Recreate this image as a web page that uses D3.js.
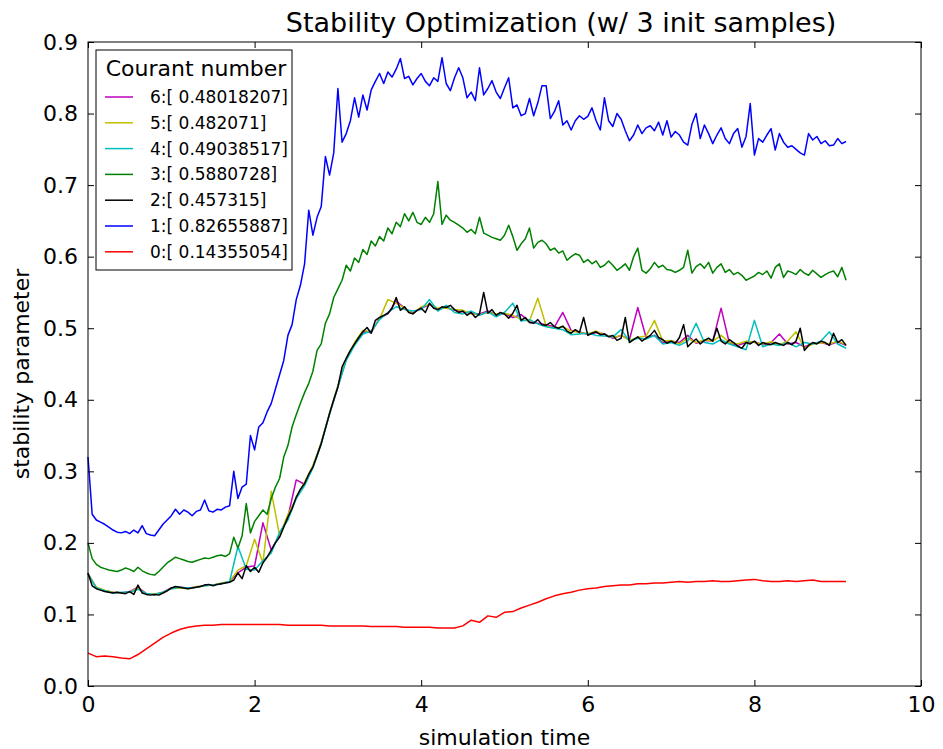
<!DOCTYPE html>
<html>
<head>
<meta charset="utf-8">
<script src="https://cdn.jsdelivr.net/npm/d3@7"></script>
<style>
  body { margin: 0; background: #fff; }
  text { font-family: "DejaVu Sans", sans-serif; fill: #000; }
</style>
</head>
<body>
<script>
// sampling grids (fine for the noisy runs, coarse for the others)
var tFine = d3.range(0, 183).map(function(i) { return i * 0.05; });
var tCoarse = d3.range(0, 92).map(function(i) { return i * 0.1; });

var seriesNames = ["0:[ 0.14355054]", "1:[ 0.82655887]", "2:[ 0.457315]", "3:[ 0.5880728]",
                   "4:[ 0.49038517]", "5:[ 0.482071]", "6:[ 0.48018207]"];
var seriesColors = ["#ff0000", "#0000ff", "#000000", "#008000", "#00bfbf", "#bfbf00", "#bf00bf"];

var xTicks = [0, 2, 4, 6, 8, 10];
var yTicks = [0.0, 0.1, 0.2, 0.3, 0.4, 0.5, 0.6, 0.7, 0.8, 0.9];

// 0: red (coarse)
var run0 = [0.046, 0.041, 0.042, 0.041, 0.039, 0.038, 0.044, 0.052, 0.060, 0.068,
  0.074, 0.079, 0.082, 0.084, 0.085, 0.085, 0.086, 0.086, 0.086, 0.086,
  0.086, 0.086, 0.086, 0.086, 0.085, 0.085, 0.085, 0.085, 0.085, 0.084,
  0.084, 0.084, 0.084, 0.084, 0.083, 0.083, 0.083, 0.083, 0.082, 0.082,
  0.082, 0.082, 0.081, 0.081, 0.081, 0.084, 0.092, 0.089, 0.098, 0.096,
  0.103, 0.104, 0.109, 0.113, 0.117, 0.122, 0.126, 0.129, 0.131, 0.134,
  0.136, 0.137, 0.139, 0.140, 0.141, 0.141, 0.143, 0.143, 0.144, 0.144,
  0.145, 0.146, 0.145, 0.146, 0.146, 0.147, 0.146, 0.146, 0.147, 0.148,
  0.149, 0.147, 0.146, 0.146, 0.147, 0.146, 0.147, 0.148, 0.146, 0.146,
  0.146, 0.146];

// 1: blue (fine)
var run1 = [0.320, 0.240, 0.232, 0.229, 0.226, 0.222, 0.218, 0.215, 0.214, 0.216,
  0.213, 0.218, 0.214, 0.224, 0.213, 0.211, 0.210, 0.218, 0.226, 0.232,
  0.238, 0.247, 0.240, 0.246, 0.243, 0.238, 0.244, 0.246, 0.260, 0.245,
  0.243, 0.247, 0.246, 0.250, 0.252, 0.300, 0.262, 0.278, 0.282, 0.350,
  0.330, 0.362, 0.368, 0.383, 0.395, 0.415, 0.435, 0.455, 0.490, 0.505,
  0.540, 0.560, 0.590, 0.665, 0.630, 0.655, 0.670, 0.740, 0.714, 0.745,
  0.835, 0.760, 0.772, 0.790, 0.822, 0.795, 0.826, 0.805, 0.833, 0.845,
  0.856, 0.842, 0.858, 0.851, 0.862, 0.877, 0.849, 0.852, 0.840, 0.849,
  0.856, 0.845, 0.839, 0.850, 0.845, 0.878, 0.842, 0.832, 0.850, 0.864,
  0.850, 0.822, 0.830, 0.818, 0.864, 0.826, 0.835, 0.846, 0.830, 0.821,
  0.836, 0.850, 0.808, 0.812, 0.797, 0.800, 0.821, 0.797, 0.815, 0.839,
  0.839, 0.793, 0.803, 0.818, 0.784, 0.790, 0.777, 0.790, 0.797, 0.792,
  0.796, 0.808, 0.790, 0.777, 0.822, 0.790, 0.782, 0.800, 0.792, 0.776,
  0.762, 0.770, 0.784, 0.772, 0.780, 0.783, 0.776, 0.788, 0.770, 0.790,
  0.767, 0.775, 0.770, 0.760, 0.756, 0.785, 0.800, 0.765, 0.784, 0.772,
  0.758, 0.770, 0.780, 0.765, 0.758, 0.772, 0.779, 0.753, 0.768, 0.814,
  0.742, 0.765, 0.760, 0.770, 0.779, 0.749, 0.772, 0.760, 0.753, 0.755,
  0.750, 0.745, 0.742, 0.772, 0.763, 0.768, 0.758, 0.762, 0.755, 0.756,
  0.765, 0.758, 0.761];

// 2: black (fine)
var run2 = [0.158, 0.140, 0.136, 0.134, 0.132, 0.131, 0.130, 0.131, 0.130, 0.129,
  0.132, 0.128, 0.141, 0.130, 0.128, 0.127, 0.128, 0.127, 0.130, 0.133,
  0.137, 0.139, 0.138, 0.137, 0.136, 0.137, 0.138, 0.139, 0.141, 0.142,
  0.140, 0.142, 0.143, 0.144, 0.145, 0.148, 0.158, 0.150, 0.168, 0.160,
  0.166, 0.159, 0.172, 0.180, 0.190, 0.200, 0.208, 0.222, 0.236, 0.248,
  0.264, 0.275, 0.283, 0.296, 0.306, 0.322, 0.339, 0.360, 0.381, 0.400,
  0.418, 0.446, 0.458, 0.469, 0.478, 0.487, 0.495, 0.501, 0.493, 0.511,
  0.515, 0.518, 0.521, 0.528, 0.543, 0.525, 0.530, 0.522, 0.520, 0.525,
  0.528, 0.522, 0.535, 0.528, 0.526, 0.530, 0.529, 0.532, 0.526, 0.522,
  0.524, 0.518, 0.522, 0.515, 0.520, 0.550, 0.521, 0.526, 0.518, 0.522,
  0.520, 0.514, 0.521, 0.532, 0.511, 0.515, 0.508, 0.507, 0.512, 0.505,
  0.504, 0.508, 0.502, 0.500, 0.503, 0.496, 0.493, 0.498, 0.494, 0.515,
  0.490, 0.493, 0.495, 0.491, 0.492, 0.488, 0.490, 0.483, 0.486, 0.515,
  0.480, 0.484, 0.488, 0.482, 0.486, 0.490, 0.497, 0.487, 0.484, 0.479,
  0.482, 0.479, 0.487, 0.505, 0.474, 0.480, 0.485, 0.478, 0.483, 0.486,
  0.482, 0.500, 0.482, 0.478, 0.484, 0.480, 0.475, 0.472, 0.480, 0.478,
  0.482, 0.476, 0.480, 0.478, 0.477, 0.480, 0.478, 0.476, 0.480, 0.477,
  0.482, 0.500, 0.469, 0.476, 0.480, 0.478, 0.482, 0.480, 0.476, 0.493,
  0.480, 0.484, 0.476];

// 3: green (fine)
var run3 = [0.200, 0.178, 0.170, 0.166, 0.164, 0.162, 0.161, 0.160, 0.162, 0.165,
  0.163, 0.160, 0.166, 0.161, 0.158, 0.156, 0.155, 0.160, 0.166, 0.172,
  0.176, 0.180, 0.178, 0.176, 0.174, 0.173, 0.175, 0.177, 0.179, 0.178,
  0.180, 0.182, 0.183, 0.181, 0.185, 0.208, 0.193, 0.210, 0.255, 0.214,
  0.230, 0.238, 0.246, 0.240, 0.262, 0.278, 0.290, 0.320, 0.336, 0.362,
  0.379, 0.395, 0.410, 0.423, 0.440, 0.469, 0.478, 0.507, 0.520, 0.543,
  0.555, 0.567, 0.588, 0.580, 0.598, 0.592, 0.610, 0.603, 0.622, 0.615,
  0.628, 0.622, 0.640, 0.632, 0.648, 0.642, 0.660, 0.650, 0.662, 0.648,
  0.645, 0.655, 0.648, 0.660, 0.705, 0.645, 0.658, 0.651, 0.648, 0.644,
  0.640, 0.634, 0.638, 0.632, 0.655, 0.633, 0.630, 0.627, 0.625, 0.623,
  0.630, 0.644, 0.628, 0.609, 0.618, 0.625, 0.640, 0.612, 0.620, 0.623,
  0.618, 0.609, 0.612, 0.605, 0.608, 0.595, 0.600, 0.604, 0.602, 0.592,
  0.596, 0.590, 0.594, 0.585, 0.588, 0.594, 0.588, 0.581, 0.585, 0.590,
  0.581, 0.600, 0.612, 0.581, 0.577, 0.583, 0.592, 0.585, 0.588, 0.582,
  0.581, 0.578, 0.581, 0.585, 0.609, 0.577, 0.586, 0.590, 0.584, 0.592,
  0.577, 0.585, 0.590, 0.578, 0.582, 0.575, 0.578, 0.574, 0.567, 0.570,
  0.573, 0.578, 0.575, 0.580, 0.570, 0.585, 0.590, 0.571, 0.580, 0.578,
  0.575, 0.582, 0.577, 0.574, 0.581, 0.576, 0.571, 0.575, 0.578, 0.580,
  0.572, 0.585, 0.567];

// 4: cyan (coarse)
var run4 = [0.156, 0.137, 0.133, 0.130, 0.131, 0.131, 0.135, 0.129, 0.128, 0.131,
  0.136, 0.138, 0.137, 0.138, 0.140, 0.141, 0.143, 0.146, 0.195, 0.163,
  0.162, 0.175, 0.186, 0.215, 0.232, 0.262, 0.280, 0.305, 0.338, 0.380,
  0.418, 0.455, 0.476, 0.492, 0.496, 0.512, 0.522, 0.530, 0.526, 0.524,
  0.526, 0.540, 0.524, 0.532, 0.522, 0.520, 0.524, 0.518, 0.523, 0.516,
  0.522, 0.535, 0.510, 0.512, 0.506, 0.502, 0.500, 0.498, 0.491, 0.492,
  0.493, 0.490, 0.489, 0.488, 0.498, 0.482, 0.486, 0.485, 0.490, 0.478,
  0.480, 0.476, 0.482, 0.507, 0.480, 0.478, 0.484, 0.478, 0.474, 0.470,
  0.511, 0.474, 0.478, 0.476, 0.480, 0.474, 0.480, 0.478, 0.482, 0.495,
  0.478, 0.472];

// 5: yellow (coarse)
var run5 = [0.157, 0.138, 0.134, 0.131, 0.130, 0.131, 0.137, 0.128, 0.129, 0.130,
  0.136, 0.137, 0.136, 0.139, 0.140, 0.141, 0.144, 0.146, 0.162, 0.168,
  0.205, 0.172, 0.272, 0.210, 0.240, 0.262, 0.285, 0.308, 0.340, 0.382,
  0.420, 0.458, 0.480, 0.497, 0.495, 0.513, 0.540, 0.535, 0.528, 0.520,
  0.530, 0.533, 0.528, 0.528, 0.526, 0.525, 0.520, 0.519, 0.522, 0.520,
  0.521, 0.518, 0.512, 0.510, 0.542, 0.503, 0.500, 0.502, 0.496, 0.494,
  0.492, 0.496, 0.491, 0.487, 0.490, 0.483, 0.487, 0.489, 0.511, 0.482,
  0.483, 0.478, 0.486, 0.480, 0.484, 0.482, 0.490, 0.480, 0.478, 0.482,
  0.480, 0.478, 0.481, 0.477, 0.482, 0.495, 0.472, 0.478, 0.480, 0.478,
  0.482, 0.477];

// 6: magenta (coarse)
var run6 = [0.157, 0.137, 0.133, 0.131, 0.130, 0.132, 0.138, 0.129, 0.128, 0.131,
  0.137, 0.138, 0.137, 0.138, 0.141, 0.141, 0.143, 0.146, 0.158, 0.166,
  0.168, 0.228, 0.190, 0.212, 0.236, 0.288, 0.282, 0.306, 0.340, 0.380,
  0.418, 0.457, 0.478, 0.495, 0.494, 0.514, 0.520, 0.538, 0.528, 0.521,
  0.528, 0.533, 0.526, 0.529, 0.525, 0.523, 0.521, 0.520, 0.524, 0.519,
  0.520, 0.515, 0.519, 0.509, 0.507, 0.505, 0.502, 0.522, 0.497, 0.495,
  0.491, 0.494, 0.492, 0.486, 0.490, 0.484, 0.529, 0.487, 0.490, 0.480,
  0.482, 0.480, 0.490, 0.479, 0.483, 0.482, 0.528, 0.479, 0.476, 0.480,
  0.481, 0.477, 0.480, 0.492, 0.478, 0.480, 0.474, 0.479, 0.480, 0.477,
  0.481, 0.476];

var runs = [
  {id: 0, t: tCoarse, v: run0},
  {id: 1, t: tFine, v: run1},
  {id: 2, t: tFine, v: run2},
  {id: 3, t: tFine, v: run3},
  {id: 4, t: tCoarse, v: run4},
  {id: 5, t: tCoarse, v: run5},
  {id: 6, t: tCoarse, v: run6}
];

var width = 943, height = 749;
var plot = {left: 88, right: 921, top: 42, bottom: 686};

var svg = d3.select("body")
  .append("svg")
  .attr("width", width)
  .attr("height", height);

var x = d3.scaleLinear().domain([0, 10]).range([plot.left, plot.right]);
var y = d3.scaleLinear().domain([0, 0.9]).range([plot.bottom, plot.top]);

var line = d3.line()
  .x(function(d) { return x(d[0]); })
  .y(function(d) { return y(d[1]); });

// matplotlib draws them 6 -> 0
var order = [6, 5, 4, 3, 2, 1, 0];
order.forEach(function(k) {
  var r = runs[k];
  var pts = r.t.map(function(t, i) { return [t, r.v[i]]; });
  svg.append("path")
    .attr("d", line(pts))
    .style("fill", "none")
    .style("stroke", seriesColors[k])
    .style("stroke-width", 1.5)
    .style("stroke-linejoin", "round");
});

// frame
svg.append("rect")
  .attr("x", plot.left)
  .attr("y", plot.top)
  .attr("width", plot.right - plot.left)
  .attr("height", plot.bottom - plot.top)
  .style("fill", "none")
  .style("stroke", "black")
  .style("stroke-width", 1);

// axes, ticks pointing inward
var xAxis = svg.append("g")
  .attr("transform", "translate(0," + plot.bottom + ")")
  .call(d3.axisBottom(x).tickValues(xTicks).tickFormat(d3.format("d"))
    .tickSizeInner(-6).tickSizeOuter(0).tickPadding(10));
svg.append("g")
  .attr("transform", "translate(0," + plot.top + ")")
  .call(d3.axisTop(x).tickValues(xTicks).tickFormat("").tickSizeInner(-6).tickSizeOuter(0));
var yAxis = svg.append("g")
  .attr("transform", "translate(" + plot.left + ",0)")
  .call(d3.axisLeft(y).tickValues(yTicks).tickFormat(d3.format(".1f"))
    .tickSizeInner(-6).tickSizeOuter(0).tickPadding(10));
svg.append("g")
  .attr("transform", "translate(" + plot.right + ",0)")
  .call(d3.axisRight(y).tickValues(yTicks).tickFormat("").tickSizeInner(-6).tickSizeOuter(0));

svg.selectAll(".domain").remove();
svg.selectAll(".tick line").style("stroke", "black");
xAxis.selectAll("text").style("font-size", "22px").style("font-family", "DejaVu Sans");
yAxis.selectAll("text").style("font-size", "22px").style("font-family", "DejaVu Sans");

// title and axis labels
svg.append("text")
  .attr("x", 561)
  .attr("y", 32)
  .attr("text-anchor", "middle")
  .style("font-size", "27px")
  .text("Stability Optimization (w/ 3 init samples)");

svg.append("text")
  .attr("x", (plot.left + plot.right) / 2)
  .attr("y", 745)
  .attr("text-anchor", "middle")
  .style("font-size", "22px")
  .text("simulation time");

svg.append("text")
  .attr("transform", "translate(29," + ((plot.top + plot.bottom) / 2 + 10) + ") rotate(-90)")
  .attr("text-anchor", "middle")
  .style("font-size", "22px")
  .text("stability parameter");

// legend
var legend = svg.append("g");
legend.append("rect")
  .attr("x", 96)
  .attr("y", 50)
  .attr("width", 196)
  .attr("height", 220)
  .style("fill", "white")
  .style("stroke", "black")
  .style("stroke-width", 1);

legend.append("text")
  .attr("x", 196)
  .attr("y", 76)
  .attr("text-anchor", "middle")
  .style("font-size", "22px")
  .text("Courant number");

var legendOrder = [6, 5, 4, 3, 2, 1, 0];
legendOrder.forEach(function(k, i) {
  var ly = 97 + i * 25.8;
  legend.append("line")
    .attr("x1", 105).attr("x2", 133)
    .attr("y1", ly).attr("y2", ly)
    .style("stroke", seriesColors[k])
    .style("stroke-width", 1.5);
  legend.append("text")
    .attr("x", 150)
    .attr("y", ly + 6)
    .style("font-size", "17px")
    .text(seriesNames[k]);
});
</script>
</body>
</html>
